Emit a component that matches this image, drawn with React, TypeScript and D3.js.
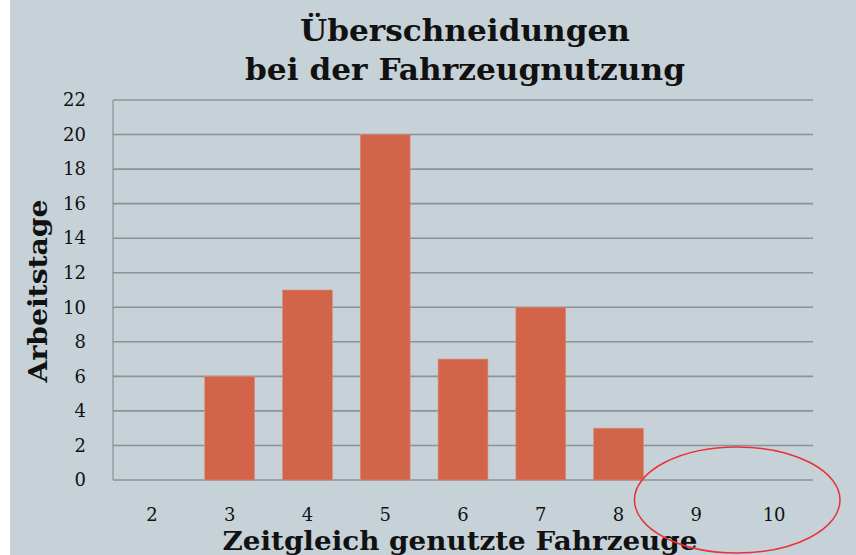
import React from 'react';
import * as d3 from 'd3';

const categories = ['2', '3', '4', '5', '6', '7', '8', '9', '10'];
const values = [0, 6, 11, 20, 7, 10, 3, 0, 0];
const yTicks = [0, 2, 4, 6, 8, 10, 12, 14, 16, 18, 20, 22];
const titleLines = ['Überschneidungen', 'bei der Fahrzeugnutzung'];
const xTitle = 'Zeitgleich genutzte Fahrzeuge';
const yTitle = 'Arbeitstage';
const highlighted = ['9', '10'];

const App = () => {
  const width = 856;
  const height = 555;
  const margin = { top: 100, right: 43, bottom: 75, left: 113 };
  const font = "Georgia, 'DejaVu Serif', serif";

  const x = d3.scaleBand()
    .domain(categories)
    .range([margin.left, width - margin.right])
    .paddingInner(0.36)
    .paddingOuter(0.18);

  const y = d3.scaleLinear()
    .domain([0, 22])
    .range([height - margin.bottom, margin.top]);

  // ellipse around the empty categories
  const hx0 = x(highlighted[0])!;
  const hx1 = x(highlighted[highlighted.length - 1])! + x.bandwidth();
  const ecx = (hx0 + hx1) / 2;

  return (
    <svg width={width} height={height} style={{ position: 'absolute', left: 0, top: 0 }}>
      <rect x={10} y={0} width={width - 10} height={height} fill="#c6d1d8" />

      <g fontFamily={font} fontWeight="bold" fill="#111" textAnchor="middle">
        {titleLines.map((t, i) => (
          <text key={t} x={465} y={41 + i * 39} fontSize={29}
            textLength={i === 0 ? 330 : 440} lengthAdjust="spacingAndGlyphs">{t}</text>
        ))}
      </g>

      {yTicks.map(t => (
        <line key={t} x1={margin.left} x2={width - margin.right} y1={y(t)} y2={y(t)}
          stroke="#8e9294" strokeWidth={1.6} />
      ))}
      <line x1={margin.left} x2={margin.left} y1={y(22)} y2={y(0)} stroke="#8e9294" strokeWidth={1.2} />

      {categories.map((c, i) => (
        <rect key={c} x={x(c)} y={y(values[i])} width={x.bandwidth()} height={y(0) - y(values[i])}
          fill="#d2644a" stroke="#dd8a76" strokeWidth={0.6} />
      ))}

      <g fontFamily={font} fontSize={18} fill="#111">
        {yTicks.map(t => (
          <text key={t} x={86} y={y(t)} dy="0.35em" textAnchor="end">{t}</text>
        ))}
        {categories.map(c => (
          <text key={c} x={x(c)! + x.bandwidth() / 2} y={521} textAnchor="middle">{c}</text>
        ))}
      </g>

      <text x={38} y={291} transform="rotate(-90 38 291)" textAnchor="middle" dy="0.35em"
        fontFamily={font} fontWeight="bold" fontSize={26} fill="#111"
        textLength={183} lengthAdjust="spacingAndGlyphs">{yTitle}</text>

      <text x={460} y={550} textAnchor="middle" fontFamily={font} fontWeight="bold" fontSize={26} fill="#111"
        textLength={475} lengthAdjust="spacingAndGlyphs">{xTitle}</text>

      <ellipse cx={ecx + 2} cy={500} rx={(hx1 - hx0) / 2 + 39} ry={53}
        fill="none" stroke="#e8323a" strokeWidth={1.5} />
    </svg>
  );
};

export default App;
